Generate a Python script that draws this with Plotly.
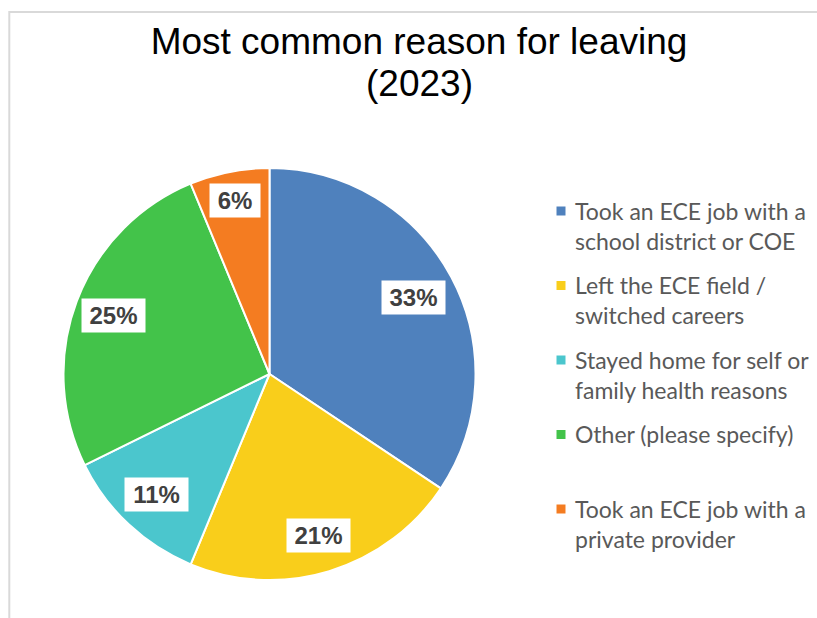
import math
import plotly.graph_objects as go

# Survey result: most common reason for leaving (2023)
categories = [
    "Took an ECE job with a school district or COE",
    "Left the ECE field / switched careers",
    "Stayed home for self or family health reasons",
    "Other (please specify)",
    "Took an ECE job with a private provider",
]
legend_text = [
    "Took an ECE job with a<br>school district or COE",
    "Left the ECE field /<br>switched careers",
    "Stayed home for self or<br>family health reasons",
    "Other (please specify)",
    "Took an ECE job with a<br>private provider",
]
values = [33, 21, 11, 25, 6]
colors = ["#4F81BD", "#F9CE1B", "#4BC6CD", "#43C34A", "#F47C21"]

# layout constants (pixels)
W, H = 817, 618
CX, CY, R = 269.5, 374.0, 206.0
label_r = [0.79, 0.82, 0.80, 0.81, 0.86]   # radial position of value labels
LEG_MARK_X, LEG_TEXT_X = 561.0, 573.0
LEG_Y0, LEG_STEP, LEG_SQ = 211.0, 74.5, 9.0
GREY_FRAME = "#D9D9D9"


def px(x):
    return x / W


def py(y):
    return 1 - y / H


fig = go.Figure(
    go.Pie(
        labels=categories,
        values=values,
        sort=False,
        direction="clockwise",
        rotation=0,
        marker=dict(colors=colors, line=dict(color="white", width=2)),
        textinfo="none",
        hoverinfo="label+percent",
        showlegend=False,
        domain=dict(x=[px(CX - R), px(CX + R)], y=[py(CY + R), py(CY - R)]),
    )
)

annotations = []
shapes = []

# value labels in white boxes, placed at each slice's mid angle
total = sum(values)
cum = 0.0
label_font = dict(family="Liberation Sans, Arial", size=24, color="#404040")
for v, rf in zip(values, label_r):
    mid = (cum + v / 2) / total
    cum += v
    theta = 2 * math.pi * mid
    x = CX + rf * R * math.sin(theta)
    y = CY - rf * R * math.cos(theta)
    txt = f"{v}%"
    tw = 24 * (0.556 * (len(txt) - 1) + 0.889)
    annotations.append(dict(
        x=px(x), y=py(y), xref="paper", yref="paper",
        text=f"<b>{txt}</b>", showarrow=False,
        font=label_font, bgcolor="white",
        width=round(tw + 9), borderpad=3,
        xanchor="center", yanchor="middle",
    ))

# legend: colour squares and wrapped labels
for i, (t, c) in enumerate(zip(legend_text, colors)):
    yc = LEG_Y0 + i * LEG_STEP
    shapes.append(dict(
        type="rect", xref="paper", yref="paper",
        x0=px(LEG_MARK_X - LEG_SQ / 2), x1=px(LEG_MARK_X + LEG_SQ / 2),
        y0=py(yc + LEG_SQ / 2), y1=py(yc - LEG_SQ / 2),
        fillcolor=c, line=dict(width=0),
    ))
    annotations.append(dict(
        x=px(LEG_TEXT_X), y=py(yc - 16.5), xref="paper", yref="paper",
        text=t, showarrow=False, align="left",
        xanchor="left", yanchor="top",
        font=dict(family="Lato", size=23, color="#595959"),
    ))

# second title line
annotations.append(dict(
    x=px(419), y=py(84), xref="paper", yref="paper",
    text="(2023)", showarrow=False, xanchor="center", yanchor="middle",
    font=dict(family="Liberation Sans, Arial", size=37, color="black"),
))

# chart frame (top and left edges)
shapes.append(dict(
    type="path", xref="paper", yref="paper",
    path=f"M {px(9.3)} 0 L {px(9.3)} {py(12)} L 1 {py(12)}",
    line=dict(color=GREY_FRAME, width=2),
))

fig.update_layout(
    width=W, height=H,
    margin=dict(l=0, r=0, t=0, b=0),
    paper_bgcolor="white",
    plot_bgcolor="white",
    title=dict(
        text="Most common reason for leaving",
        x=px(419), xanchor="center",
        y=py(41.5), yanchor="middle", yref="container",
        font=dict(family="Liberation Sans, Arial", size=37, color="black"),
    ),
    annotations=annotations,
    shapes=shapes,
)

fig.write_html("out.html")
